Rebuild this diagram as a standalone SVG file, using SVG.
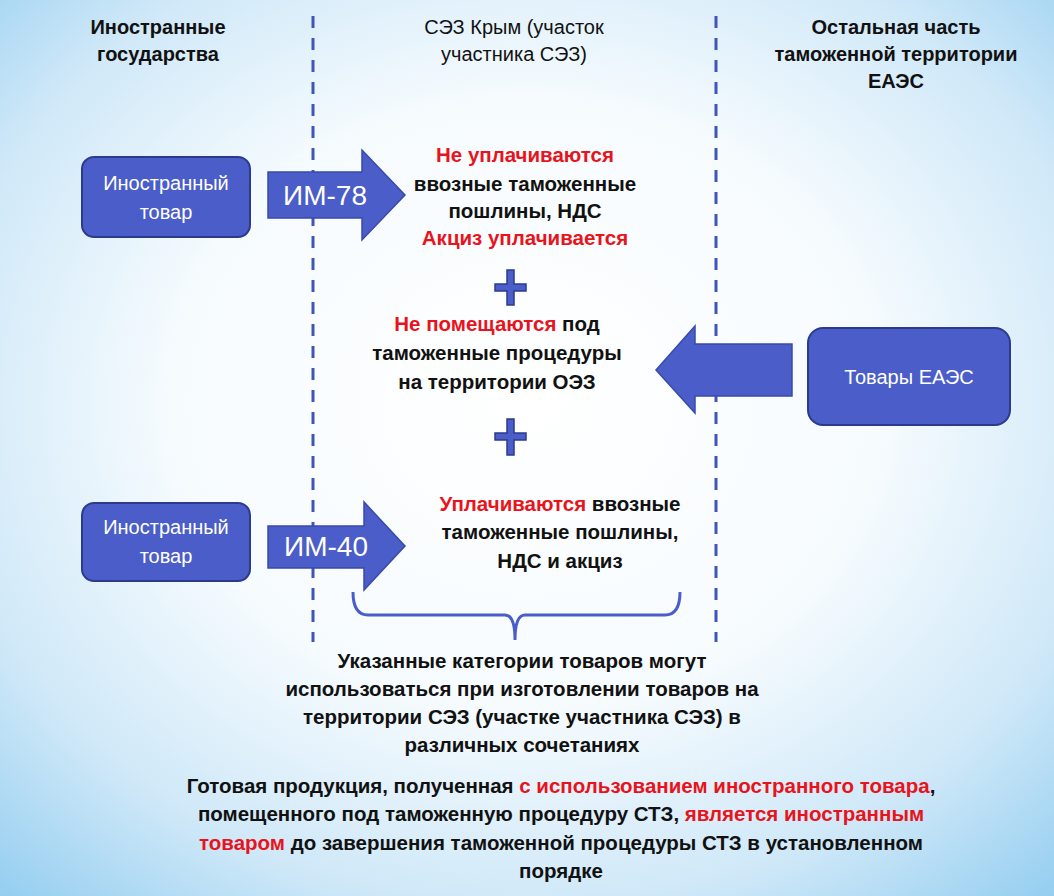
<svg xmlns="http://www.w3.org/2000/svg" width="1054" height="896" viewBox="0 0 1054 896">
<defs>
<radialGradient id="bg" cx="50%" cy="45%" r="75%">
<stop offset="0" stop-color="#ffffff"/>
<stop offset="0.45" stop-color="#f6fbfe"/>
<stop offset="0.75" stop-color="#cfe8f8"/>
<stop offset="1" stop-color="#92cdf0"/>
</radialGradient>
<style>
.hd{font-family:"Liberation Sans",Arial,sans-serif;font-size:20px;fill:#111;text-anchor:middle}
.b{font-family:"Liberation Sans",Arial,sans-serif;font-size:20.5px;font-weight:bold;fill:#111;text-anchor:middle}
.r{fill:#e8141c}
.box{fill:#4a5dc8;stroke:#2c3a8e;stroke-width:2}
.bt{font-family:"Liberation Sans",Arial,sans-serif;font-size:20px;fill:#fff;text-anchor:middle}
.arr{fill:#4a5dc8;stroke:#3a4aa8;stroke-width:1.5}
.at{font-family:"Liberation Sans",Arial,sans-serif;font-size:28px;fill:#fff;text-anchor:middle}
.dash{stroke:#3f56b8;stroke-width:3;stroke-dasharray:12 10;fill:none}
.plus{fill:#4a5dc8;stroke:#2c3a8e;stroke-width:1.5}
.brace{fill:none;stroke:#4a5dc8;stroke-width:3}
</style>
</defs>
<rect x="0" y="0" width="1054" height="896" fill="url(#bg)"/>

<g id="headers">
<text class="hd" font-weight="bold" x="158" y="34">Иностранные</text>
<text class="hd" font-weight="bold" x="158" y="61">государства</text>
<text class="hd" x="514" y="34">СЭЗ Крым (участок</text>
<text class="hd" x="514" y="61">участника СЭЗ)</text>
<text class="hd" font-weight="bold" x="896" y="34">Остальная часть</text>
<text class="hd" font-weight="bold" x="896" y="61">таможенной территории</text>
<text class="hd" font-weight="bold" x="896" y="88">ЕАЭС</text>
</g>

<g id="dividers">
<line class="dash" x1="313" y1="16" x2="313" y2="642"/>
<line class="dash" x1="716" y1="16" x2="716" y2="642"/>
</g>

<g id="node-foreign1">
<rect class="box" x="82" y="157" width="168" height="80" rx="12"/>
<text class="bt" x="166" y="190">Иностранный</text>
<text class="bt" x="166" y="219">товар</text>
</g>

<g id="node-foreign2">
<rect class="box" x="82" y="503" width="168" height="78" rx="12"/>
<text class="bt" x="166" y="534">Иностранный</text>
<text class="bt" x="166" y="563">товар</text>
</g>

<g id="node-eaes">
<rect class="box" x="808" y="328" width="202" height="97" rx="15"/>
<text class="bt" x="909" y="384">Товары ЕАЭС</text>
</g>

<g id="connectors">
<g id="arrow-im78">
<path class="arr" d="M268,172 H362 V150 L405,195 L362,240 V218 H268 Z"/>
<text class="at" x="325" y="205">ИМ-78</text>
</g>
<g id="arrow-im40">
<path class="arr" d="M268,526 H364 V502 L405,546 L364,590 V568 H268 Z"/>
<text class="at" x="326" y="556">ИМ-40</text>
</g>
<g id="arrow-eaes">
<path class="arr" d="M792,344 H695 V326 L656,370 L695,413 V396 H792 Z"/>
</g>
</g>

<g id="text-im78">
<text class="b" y="162"><tspan class="r" x="525">Не уплачиваются</tspan></text>
<text class="b" x="525" y="191">ввозные таможенные</text>
<text class="b" x="525" y="218">пошлины, НДС</text>
<text class="b" y="245"><tspan class="r" x="525">Акциз уплачивается</tspan></text>
</g>

<g id="plus1">
<path class="plus" d="M507,270 H514 V284 H526 V291 H514 V305 H507 V291 H495 V284 H507 Z"/>
</g>

<g id="text-eaes">
<text class="b" x="497" y="331"><tspan class="r">Не помещаются</tspan> под</text>
<text class="b" x="497" y="360">таможенные процедуры</text>
<text class="b" x="497" y="389">на территории ОЭЗ</text>
</g>

<g id="plus2">
<path class="plus" d="M507,419 H514 V433 H526 V440 H514 V455 H507 V440 H495 V433 H507 Z"/>
</g>

<g id="text-im40">
<text class="b" x="560" y="511"><tspan class="r">Уплачиваются</tspan> ввозные</text>
<text class="b" x="560" y="539">таможенные пошлины,</text>
<text class="b" x="560" y="568">НДС и акциз</text>
</g>

<g id="brace">
<path class="brace" d="M353,592 Q353,615 368,615 H505 Q515,615 515,640 Q515,615 525,615 H665 Q680,615 680,592"/>
</g>

<g id="text-bottom">
<text class="b" x="522" y="668">Указанные категории товаров могут</text>
<text class="b" x="522" y="696">использоваться при изготовлении товаров на</text>
<text class="b" x="522" y="724">территории СЭЗ (участке участника СЭЗ) в</text>
<text class="b" x="522" y="752">различных сочетаниях</text>
<text class="b" x="561" y="793">Готовая продукция, полученная <tspan class="r">с использованием иностранного товара</tspan>,</text>
<text class="b" x="561" y="821">помещенного под таможенную процедуру СТЗ, <tspan class="r">является иностранным</tspan></text>
<text class="b" x="561" y="850"><tspan class="r">товаром</tspan> до завершения таможенной процедуры СТЗ в установленном</text>
<text class="b" x="561" y="878">порядке</text>
</g>
</svg>
